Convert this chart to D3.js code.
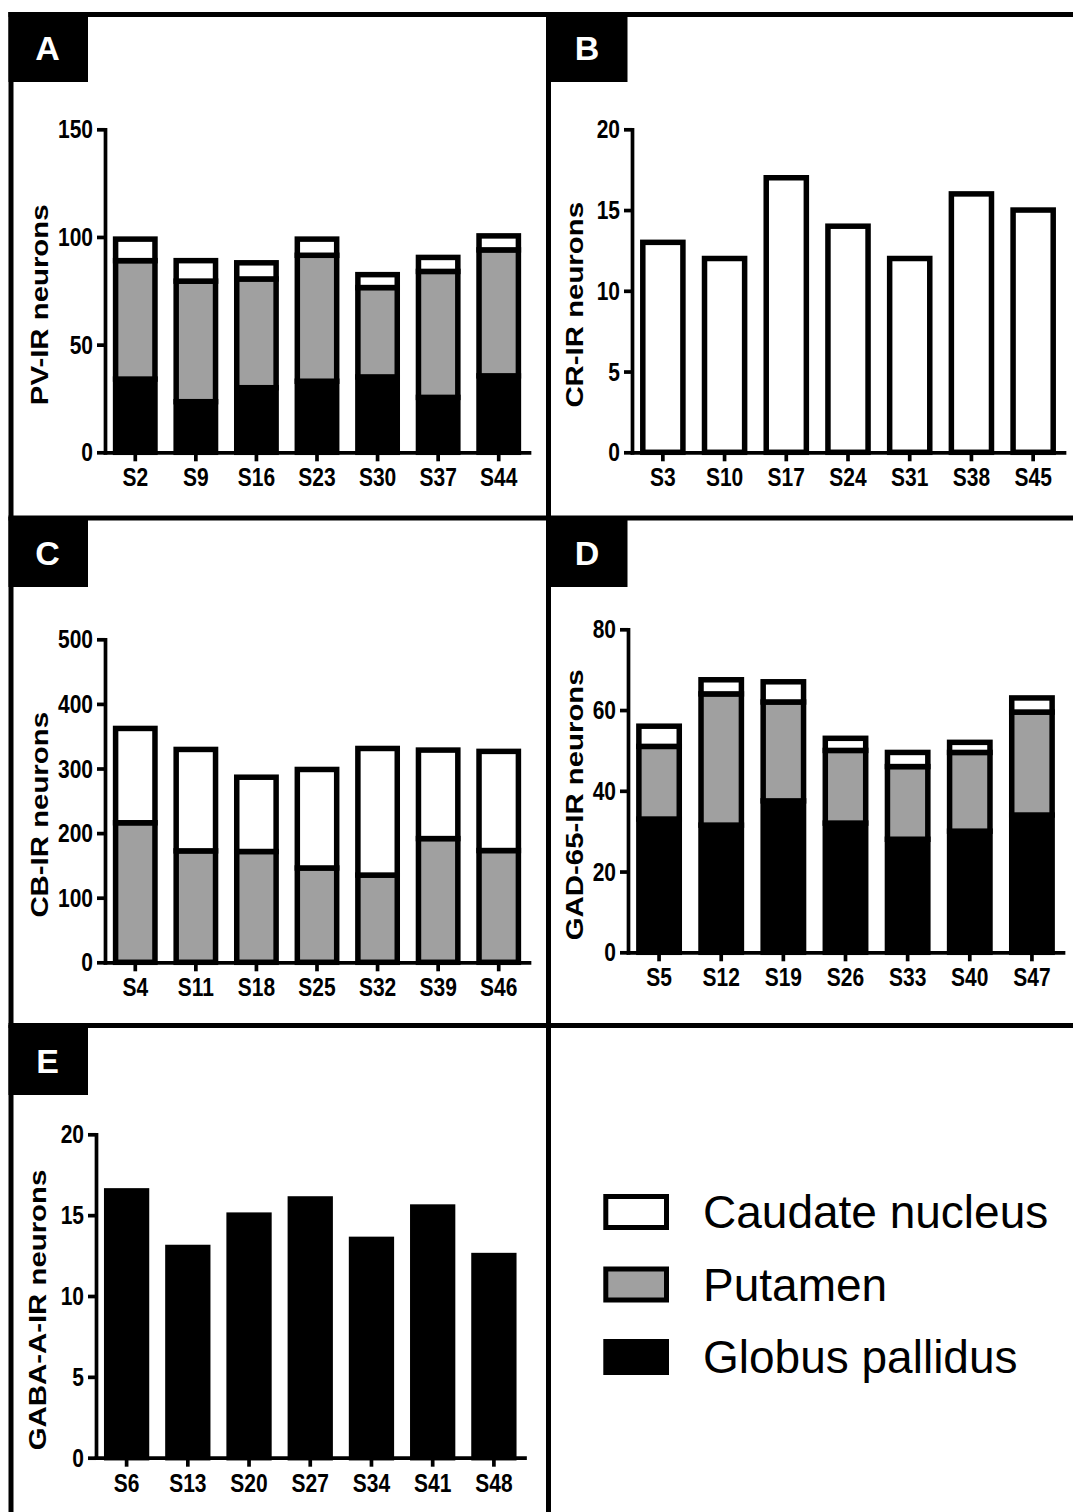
<!DOCTYPE html>
<html>
<head>
<meta charset="utf-8">
<script src="https://cdn.jsdelivr.net/npm/d3@7"></script>
<style>
  body { margin: 0; background: #fff; }
  svg { display: block; font-family: "Liberation Sans", Arial, Helvetica, sans-serif; }
</style>
</head>
<body>
<div id="fig"></div>
<script>
// legend / stack order (top to bottom in legend)
const regions = ["Caudate nucleus", "Putamen", "Globus pallidus"];
const regionFill = { "Caudate nucleus": "#ffffff", "Putamen": "#a0a0a0", "Globus pallidus": "#000000" };

// A - PV-IR neurons
const pvSamples = ["S2", "S9", "S16", "S23", "S30", "S37", "S44"];
const pvGlobus  = [34, 23.5, 30, 33, 35, 25.5, 35.5];
const pvPutamen = [55, 56, 50.5, 58.5, 41.5, 58.5, 58.5];
const pvCaudate = [10, 9.5, 7.5, 7.5, 6, 6.5, 6.5];
const pvTicks   = [0, 50, 100, 150];

// B - CR-IR neurons
const crSamples = ["S3", "S10", "S17", "S24", "S31", "S38", "S45"];
const crCaudate = [13, 12, 17, 14, 12, 16, 15];
const crTicks   = [0, 5, 10, 15, 20];

// C - CB-IR neurons
const cbSamples = ["S4", "S11", "S18", "S25", "S32", "S39", "S46"];
const cbPutamen = [216, 172.5, 171.5, 146, 135, 191.5, 173];
const cbCaudate = [146, 157, 115, 152.5, 196, 137, 153.5];
const cbTicks   = [0, 100, 200, 300, 400, 500];

// D - GAD-65-IR neurons
const gadSamples = ["S5", "S12", "S19", "S26", "S33", "S40", "S47"];
const gadGlobus  = [33, 31.5, 37.5, 32, 28, 30, 34];
const gadPutamen = [18, 32.5, 24.5, 18, 18, 19.5, 25.5];
const gadCaudate = [5, 3.5, 5, 3, 3.5, 2.5, 3.5];
const gadTicks   = [0, 20, 40, 60, 80];

// E - GABA-A-IR neurons
const gabaSamples = ["S6", "S13", "S20", "S27", "S34", "S41", "S48"];
const gabaGlobus  = [16.5, 13, 15, 16, 13.5, 15.5, 12.5];
const gabaTicks   = [0, 5, 10, 15, 20];

const W = 1073, H = 1512;
const svg = d3.select("#fig").append("svg").attr("width", W).attr("height", H);

const panels = [
  { letter: "A", title: "PV-IR neurons", samples: pvSamples, ticks: pvTicks,
    series: [["Globus pallidus", pvGlobus], ["Putamen", pvPutamen], ["Caudate nucleus", pvCaudate]],
    x0: 105, x1: 529, yb: 452.3, yt: 129.3, titleX: 47.5, box: [8.5, 12] },
  { letter: "B", title: "CR-IR neurons", samples: crSamples, ticks: crTicks,
    series: [["Caudate nucleus", crCaudate]],
    x0: 632, x1: 1064, yb: 452.3, yt: 129.3, titleX: 582.5, box: [548, 12] },
  { letter: "C", title: "CB-IR neurons", samples: cbSamples, ticks: cbTicks,
    series: [["Putamen", cbPutamen], ["Caudate nucleus", cbCaudate]],
    x0: 105, x1: 529, yb: 962.3, yt: 639.3, titleX: 47.5, box: [8.5, 517] },
  { letter: "D", title: "GAD-65-IR neurons", samples: gadSamples, ticks: gadTicks,
    series: [["Globus pallidus", gadGlobus], ["Putamen", gadPutamen], ["Caudate nucleus", gadCaudate]],
    x0: 628, x1: 1063, yb: 952.3, yt: 629.3, titleX: 582.5, box: [548, 517] },
  { letter: "E", title: "GABA-A-IR neurons", samples: gabaSamples, ticks: gabaTicks,
    series: [["Globus pallidus", gabaGlobus]],
    x0: 96, x1: 524.5, yb: 1457.7, yt: 1134.3, titleX: 46, box: [8.5, 1025] }
];

panels.forEach(drawPanel);

function drawPanel(p) {
  const g = svg.append("g");

  const x = d3.scaleBand()
    .domain(p.samples)
    .range([p.x0, p.x1])
    .paddingInner(0.35)
    .paddingOuter(0.175);

  const y = d3.scaleLinear()
    .domain([0, d3.max(p.ticks)])
    .range([p.yb, p.yt]);

  const keys = p.series.map(s => s[0]);
  const rows = p.samples.map((s, i) => {
    const r = { sample: s };
    p.series.forEach(([k, v]) => r[k] = v[i]);
    return r;
  });
  const stacked = d3.stack().keys(keys)(rows);

  g.selectAll("g.layer")
    .data(stacked)
    .join("g")
    .attr("class", "layer")
    .attr("fill", d => regionFill[d.key])
    .selectAll("rect")
    .data(d => d)
    .join("rect")
    .attr("x", d => x(d.data.sample))
    .attr("width", x.bandwidth())
    .attr("y", d => y(d[1]))
    .attr("height", d => y(d[0]) - y(d[1]))
    .attr("stroke", "#000")
    .attr("stroke-width", 5.5);

  // y axis
  const ya = g.append("g")
    .attr("transform", `translate(${p.x0},0)`)
    .call(d3.axisLeft(y).tickValues(p.ticks).tickSize(8).tickSizeOuter(0));
  // x axis
  const xa = g.append("g")
    .attr("transform", `translate(0,${p.yb})`)
    .call(d3.axisBottom(x).tickSize(9).tickSizeOuter(0));

  [ya, xa].forEach(a => {
    a.select(".domain").attr("stroke-width", 3.7).attr("stroke-linecap", "square");
    a.selectAll(".tick line").attr("stroke-width", 3.7);
    a.selectAll("text")
      .attr("fill", "#000")
      .attr("font-size", 25)
      .attr("font-weight", "bold")
      .attr("font-family", "'Liberation Sans', Arial, sans-serif")
      .attr("transform", "scale(0.84,1)");
  });
  ya.selectAll("text").attr("x", -12 / 0.84).attr("dy", "0.34em");
  xa.selectAll("text").attr("y", 34).attr("dy", 0);

  // axis title (vertically stretched like the original)
  g.append("text")
    .attr("transform", `translate(${p.titleX},${(p.yb + p.yt) / 2 + 14}) rotate(-90) scale(1.25,1)`)
    .attr("text-anchor", "middle")
    .attr("font-size", 23.5)
    .attr("font-weight", "bold")
    .text(p.title);

  // panel letter box
  svg.append("rect")
    .attr("x", p.box[0]).attr("y", p.box[1])
    .attr("width", 79.5).attr("height", 70)
    .attr("fill", "#000");
  svg.append("text")
    .attr("x", p.box[0] + 39)
    .attr("y", p.box[1] + 47.5)
    .attr("text-anchor", "middle")
    .attr("font-size", 34)
    .attr("font-weight", "bold")
    .attr("fill", "#fff")
    .text(p.letter);
}

// frame lines
const frame = svg.append("g").attr("stroke", "#000").attr("stroke-width", 5);
frame.append("line").attr("x1", 8.5).attr("x2", W).attr("y1", 14.5).attr("y2", 14.5);
frame.append("line").attr("x1", 8.5).attr("x2", W).attr("y1", 518).attr("y2", 518);
frame.append("line").attr("x1", 8.5).attr("x2", W).attr("y1", 1025.5).attr("y2", 1025.5);
frame.append("line").attr("x1", 11).attr("x2", 11).attr("y1", 12).attr("y2", H);
frame.append("line").attr("x1", 548.5).attr("x2", 548.5).attr("y1", 12).attr("y2", H);

// legend
const legend = svg.append("g");
const legendY = d3.scalePoint().domain(regions).range([1212, 1357]);
legend.selectAll("rect")
  .data(regions)
  .join("rect")
  .attr("x", 605.8)
  .attr("y", d => legendY(d) - 15.5)
  .attr("width", 60.7)
  .attr("height", 31)
  .attr("fill", d => regionFill[d])
  .attr("stroke", "#000")
  .attr("stroke-width", 5);
legend.selectAll("text")
  .data(regions)
  .join("text")
  .attr("x", 703)
  .attr("y", d => legendY(d) + 16.3)
  .attr("font-size", 46)
  .attr("fill", "#000")
  .text(d => d);
</script>
</body>
</html>
